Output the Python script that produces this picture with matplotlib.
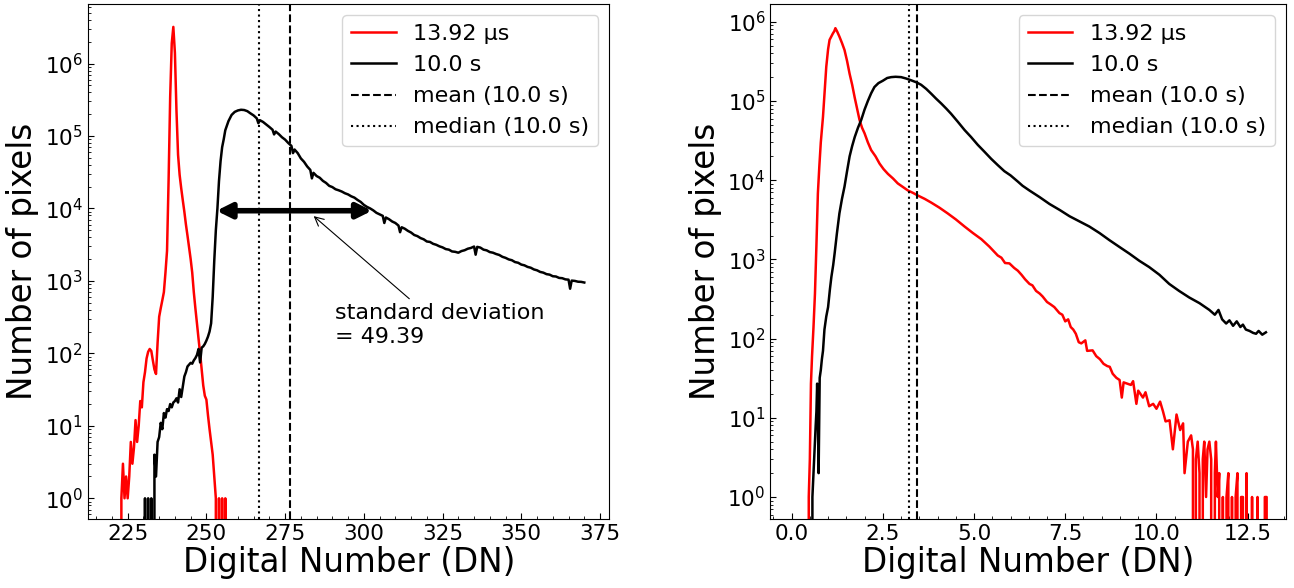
import numpy as np
import matplotlib.pyplot as plt

# left panel: histogram values (DN, counts)
left_red_x = [220, 221, 222, 222.5, 223, 223.5, 224, 224.5, 225, 225.5, 226, 226.5, 227, 227.5,
              228, 228.5, 229, 229.5, 230, 230.5, 231, 231.5, 232, 232.5, 233, 233.5, 234, 234.5,
              235, 235.5, 236, 236.5, 237, 237.5, 238, 238.5, 239, 239.5, 240, 240.5, 241, 241.5,
              242, 242.5, 243, 243.5, 244, 244.5, 245, 245.5, 246, 246.5, 247, 247.5, 248, 248.5,
              249, 249.5, 250, 250.5, 251, 251.5, 252, 252.5, 253, 253.5, 254, 254.5, 255, 255.5,
              256, 256.5, 257]
left_red_y = [0, 0, 0, 0, 1, 3, 1, 2, 1, 2, 6, 3, 5, 12,
              6, 10, 22, 18, 40, 55, 85, 105, 115, 108, 80, 60, 52, 140,
              320, 420, 540, 700, 1300, 2600, 2.5e4, 3.5e5, 1.9e6, 3.2e6, 1.4e6, 2.2e5, 5.5e4, 2.9e4,
              1.9e4, 1.3e4, 9e3, 6e3, 4.2e3, 2.9e3, 2e3, 1.3e3, 700, 420, 260, 160, 100, 60,
              36, 26, 23, 14, 9, 6, 4, 2, 1, 0, 1, 0, 1, 0,
              1, 0, 0]

left_black_x = [229, 230, 230.5, 231, 231.5, 232, 232.5, 233, 233.5, 234, 234.5, 235, 235.5, 236,
                236.5, 237, 237.5, 238, 238.5, 239, 239.5, 240, 240.5, 241, 241.5, 242, 242.5, 243,
                243.5, 244, 244.5, 245, 245.5, 246, 246.5, 247, 247.5, 248, 248.5, 249, 249.5, 250,
                250.5, 251, 251.5, 252, 252.5, 253, 253.5, 254, 254.5, 255, 255.5, 256, 257, 258,
                259, 260, 261, 262, 263, 264, 265, 266, 266.5, 267, 268, 269, 270, 271, 271.5, 272,
                273, 274, 275, 276, 277, 277.5, 278, 279, 280, 281, 282, 283, 283.5, 284, 285, 286,
                287, 288, 289, 290, 291, 292, 293, 294, 295, 296, 297, 298, 299, 300, 301, 302,
                303, 304, 305, 306, 306.5, 307, 308, 309, 310, 311, 311.5, 312, 313, 314, 315, 316,
                317, 318, 319, 320, 321, 322, 323, 324, 325, 326, 327, 328, 329, 330, 331, 332,
                333, 334, 335, 335.5, 336, 337, 338, 339, 340, 341, 342, 343, 344, 345, 346, 347,
                348, 349, 350, 351, 352, 353, 354, 355, 356, 357, 358, 359, 360, 361, 362, 363,
                364, 365, 365.5, 366, 367, 368, 369, 370]
left_black_y = [0, 0, 1, 0, 1, 0, 1, 0, 4, 2, 6, 7, 11, 9,
                15, 13, 17, 16, 20, 18, 21, 22, 24, 21, 32, 25, 35, 48,
                55, 66, 70, 74, 72, 80, 86, 95, 115, 75, 120, 125, 135, 150,
                170, 200, 260, 600, 1900, 5000, 1e4, 2.4e4, 4.5e4, 7e4, 9e4, 1.2e5, 1.6e5, 1.95e5,
                2.15e5, 2.25e5, 2.3e5, 2.28e5, 2.2e5, 2.05e5, 1.92e5, 1.75e5, 1.5e5, 1.65e5, 1.56e5, 1.44e5, 1.33e5, 1.22e5, 1.05e5, 1.15e5,
                1.06e5, 9.6e4, 8.9e4, 8.0e4, 7.3e4, 5.8e4, 6.5e4, 5.8e4, 4.9e4, 4.4e4, 3.8e4, 3.4e4, 2.6e4, 3.1e4, 2.8e4, 2.65e4,
                2.4e4, 2.25e4, 2.05e4, 1.97e4, 1.84e4, 1.78e4, 1.71e4, 1.62e4, 1.56e4, 1.47e4, 1.41e4, 1.31e4, 1.23e4, 1.12e4, 1.05e4, 1.0e4,
                9.4e3, 8.7e3, 8.3e3, 7.9e3, 6.3e3, 7.5e3, 7.1e3, 6.6e3, 6.3e3, 5.8e3, 4.7e3, 5.5e3, 5.25e3, 4.9e3, 4.65e3, 4.3e3,
                4.15e3, 3.9e3, 3.75e3, 3.5e3, 3.45e3, 3.25e3, 3.15e3, 3e3, 2.9e3, 2.75e3, 2.7e3, 2.55e3, 2.52e3, 2.45e3, 2.58e3, 2.65e3,
                2.78e3, 2.85e3, 2.98e3, 2.3e3, 2.95e3, 2.88e3, 2.7e3, 2.64e3, 2.5e3, 2.45e3, 2.35e3, 2.28e3, 2.15e3, 2.08e3, 1.98e3, 1.93e3,
                1.82e3, 1.78e3, 1.68e3, 1.64e3, 1.56e3, 1.52e3, 1.44e3, 1.4e3, 1.33e3, 1.3e3, 1.24e3, 1.22e3, 1.16e3, 1.15e3, 1.1e3, 1.09e3,
                1.05e3, 1.04e3, 780, 1.01e3, 1e3, 975, 970, 950]

left_mean = 276.5
left_median = 266.8
left_std = 49.39

# right panel
right_red_x = [0.0, 0.3, 0.45, 0.47, 0.5, 0.53, 0.56, 0.6, 0.64, 0.68, 0.72, 0.76, 0.8, 0.86,
               0.9, 0.95, 1.0, 1.04, 1.08, 1.13, 1.17, 1.2, 1.25, 1.31, 1.38, 1.45, 1.52, 1.59,
               1.66, 1.73, 1.8, 1.86, 1.93, 2.0, 2.09, 2.18, 2.3, 2.41, 2.52, 2.64, 2.78, 2.91,
               3.05, 3.19, 3.33, 3.46, 3.65, 3.83, 4.05, 4.28, 4.5, 4.74, 4.97, 5.2, 5.42, 5.65,
               5.75, 5.85, 5.97, 6.1, 6.2, 6.3, 6.4, 6.52, 6.6, 6.7, 6.8, 6.88, 7.0, 7.1,
               7.2, 7.34, 7.42, 7.5, 7.58, 7.65, 7.72, 7.79, 7.87, 7.94, 8.05,
               8.1, 8.25, 8.35, 8.45, 8.55, 8.65, 8.72, 8.8, 8.9, 8.99, 9.05, 9.1, 9.2, 9.3,
               9.36, 9.45, 9.5, 9.63, 9.7, 9.8, 9.91, 10.0, 10.1, 10.18, 10.25, 10.36, 10.45, 10.55,
               10.65, 10.73, 10.77, 10.86, 10.95, 11.0, 11.04, 11.08, 11.13, 11.18, 11.22, 11.27, 11.31, 11.36,
               11.4, 11.45, 11.5, 11.55, 11.6, 11.63, 11.68, 11.72, 11.76, 11.82, 11.87, 11.92, 11.97, 12.02,
               12.07, 12.12, 12.17, 12.22, 12.27, 12.32, 12.37, 12.42, 12.47, 12.52, 12.57, 12.62, 12.67, 12.72,
               12.77, 12.82, 12.87, 12.92, 12.97, 13.02, 13.05]
right_red_y = [0, 0, 0, 1, 3, 27, 60, 140, 370, 1500, 6800, 1.5e4, 3.0e4, 6.3e4,
               1.2e5, 2.7e5, 4.5e5, 5.9e5, 6.4e5, 7.1e5, 7.6e5, 8.3e5, 7.5e5, 6.5e5, 5.4e5, 4.4e5, 3.2e5, 2.2e5,
               1.6e5, 1.1e5, 7.8e4, 5.8e4, 4.6e4, 3.9e4, 3.0e4, 2.4e4, 2.0e4, 1.62e4, 1.38e4, 1.2e4, 1.05e4, 9.1e3,
               8.2e3, 7.4e3, 6.9e3, 6.4e3, 5.8e3, 5.2e3, 4.5e3, 3.8e3, 3.2e3, 2.6e3, 2.15e3, 1.8e3, 1.45e3, 1.12e3,
               1.05e3, 900, 890, 780, 720, 640, 560, 490, 470, 400, 370, 340, 290, 270,
               250, 210, 200, 165, 175, 140, 130, 115, 90, 87, 95,
               70, 71, 60, 55, 48, 45, 44, 36, 32, 30, 18, 28, 27, 26,
               29, 15, 22, 18, 21, 14, 15, 13, 16, 12, 9, 9.3, 4, 11,
               7, 8.5, 2, 5, 6, 4, 0, 3, 5, 2, 0, 3, 5, 1,
               4, 5, 3, 0, 2, 5, 1, 2, 0, 1, 0, 1, 2, 0,
               1, 0, 1, 2, 0, 1, 1, 0, 2, 0, 0, 1, 0, 0,
               1, 0, 0, 0, 1, 1, 0]

right_black_x = [0.0, 0.5, 0.54, 0.57, 0.6, 0.63, 0.66, 0.68, 0.7, 0.72, 0.74, 0.77, 0.8, 0.83,
                 0.86, 0.9, 0.95, 1.0, 1.05, 1.09, 1.14, 1.18, 1.24, 1.31, 1.38, 1.45, 1.52, 1.59,
                 1.66, 1.73, 1.82, 1.91, 2.0, 2.09, 2.18, 2.27, 2.38, 2.5, 2.62, 2.73, 2.85, 3.0,
                 3.14, 3.28, 3.42, 3.55, 3.69, 3.83, 3.96, 4.1, 4.24, 4.37, 4.55, 4.74, 4.92, 5.1,
                 5.28, 5.47, 5.65, 5.83, 6.0, 6.2, 6.33, 6.52, 6.8, 7.07, 7.35, 7.62, 7.9, 8.16,
                 8.44, 8.71, 9.0, 9.26, 9.53, 9.8, 10.08, 10.35, 10.62, 10.9, 11.18, 11.45, 11.6, 11.7,
                 11.8, 11.91, 12.0, 12.1, 12.2, 12.3, 12.37, 12.45, 12.55, 12.65, 12.73, 12.8, 12.9, 13.0]
right_black_y = [0, 0, 0, 1, 2, 4, 8, 12, 27, 10, 2, 32, 40, 55,
                 70, 130, 190, 250, 420, 600, 850, 1200, 2100, 3800, 5800, 8300, 1.3e4, 2.0e4,
                 2.7e4, 3.5e4, 4.6e4, 5.8e4, 7.8e4, 1.0e5, 1.25e5, 1.5e5, 1.68e5, 1.8e5, 1.95e5, 2.0e5, 2.02e5, 2.0e5,
                 1.92e5, 1.82e5, 1.72e5, 1.6e5, 1.42e5, 1.23e5, 1.07e5, 9.3e4, 8.0e4, 6.9e4, 5.5e4, 4.3e4, 3.5e4, 2.8e4,
                 2.3e4, 1.86e4, 1.55e4, 1.3e4, 1.15e4, 9.6e3, 8.5e3, 7.4e3, 6.1e3, 5.0e3, 4.2e3, 3.5e3, 3.0e3, 2.6e3,
                 2.15e3, 1.75e3, 1.42e3, 1.18e3, 960, 800, 640, 490, 400, 330, 280, 230, 200, 230,
                 175, 155, 170, 145, 165, 140, 150, 130, 125, 118, 115, 125, 112, 120]

right_mean = 3.45
right_median = 3.22

short_label = "13.92 μs"
long_label = "10.0 s"

fig = plt.figure(figsize=(12.94, 5.88), dpi=100)
ax1 = fig.add_axes([0.068, 0.1165, 0.403, 0.8765])
ax2 = fig.add_axes([0.5954, 0.1165, 0.3984, 0.8765])


def style_axes(ax):
    ax.set_yscale("log")
    ax.tick_params(which="both", direction="in", top=False, right=False, labelsize=15.5)
    ax.tick_params(which="major", length=4.5)
    ax.tick_params(which="minor", length=2.5)
    ax.set_xlabel("Digital Number (DN)", fontsize=23.5, labelpad=1.5)
    ax.set_ylabel("Number of pixels", fontsize=23.5)


# left
ax1.plot(left_red_x, left_red_y, color="red", lw=1.8, label=short_label)
ax1.plot(left_black_x, left_black_y, color="black", lw=1.8, label=long_label)
ax1.axvline(left_mean, color="black", ls="--", lw=1.5, label="mean (10.0 s)")
ax1.axvline(left_median, color="black", ls=":", lw=1.5, label="median (10.0 s)")
ax1.annotate("", xy=(302.6, 9.3e3), xytext=(253.2, 9.3e3),
             arrowprops=dict(arrowstyle="<|-|>", lw=4, color="black",
                             mutation_scale=22, shrinkA=0, shrinkB=0))
ax1.annotate("standard deviation\n= %.2f" % left_std, xy=(283.4, 8.3e3), xytext=(290.8, 490),
             fontsize=16, ha="left", va="top",
             arrowprops=dict(arrowstyle="->", lw=0.8, color="black"))
style_axes(ax1)
ax1.set_xlim(212.4, 378)
ax1.set_ylim(0.51, 6.6e6)
ax1.set_xticks([225, 250, 275, 300, 325, 350, 375])
ax1.xaxis.set_minor_locator(plt.MultipleLocator(5))
ax1.legend(loc="upper right", fontsize=16)

# right
ax2.plot(right_red_x, right_red_y, color="red", lw=1.8, label=short_label)
ax2.plot(right_black_x, right_black_y, color="black", lw=1.8, label=long_label)
ax2.axvline(right_mean, color="black", ls="--", lw=1.5, label="mean (10.0 s)")
ax2.axvline(right_median, color="black", ls=":", lw=1.5, label="median (10.0 s)")
style_axes(ax2)
ax2.set_xlim(-0.58, 13.55)
ax2.set_ylim(0.52, 1.67e6)
ax2.set_xticks([0.0, 2.5, 5.0, 7.5, 10.0, 12.5])
ax2.xaxis.set_minor_locator(plt.MultipleLocator(0.5))
ax2.legend(loc="upper right", fontsize=16)

fig.savefig("out.png", dpi=100)
